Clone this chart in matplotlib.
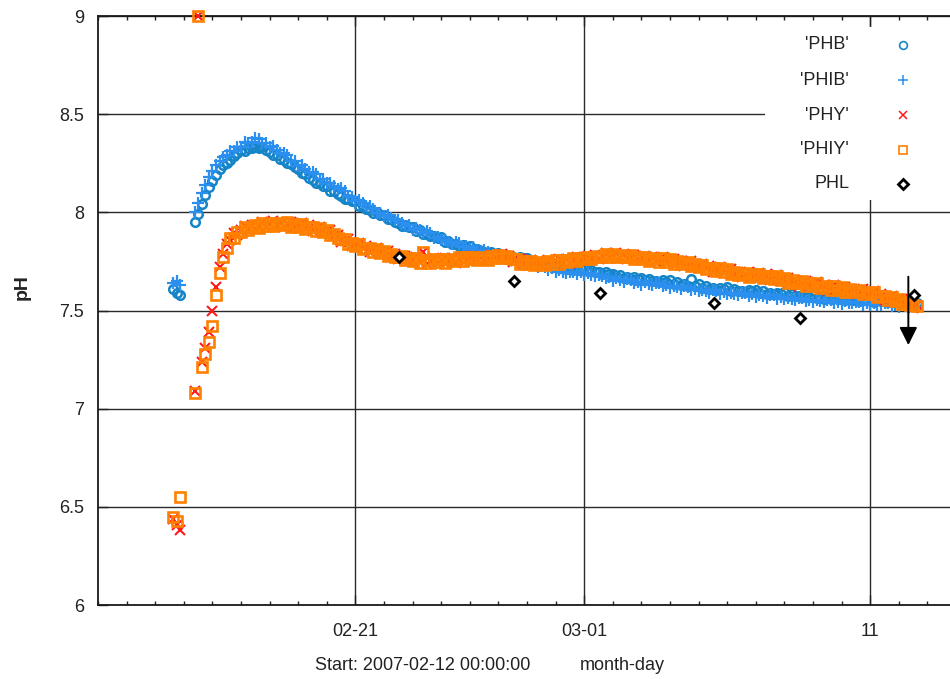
import datetime as dt

import matplotlib
matplotlib.use("Agg")
import matplotlib.pyplot as plt
import matplotlib.dates as mdates
from matplotlib.patches import Rectangle
from matplotlib.ticker import FixedLocator, FixedFormatter

plt.rcParams['font.family'] = ['Liberation Sans', 'DejaVu Sans']

nan = float('nan')

# ---- time axis -------------------------------------------------------------
START = dt.datetime(2007, 2, 12)
AXIS_DAYS = 29.86
SAMPLE_START = dt.datetime(2007, 2, 14, 15)   # first probe reading
SAMPLE_STEP_HOURS = 3

TICK_DATES = ['2007-02-21', '2007-03-01', '2007-03-11']
TICK_LABELS = ['02-21', '03-01', '11']
Y_TICKS = [6.0, 6.5, 7.0, 7.5, 8.0, 8.5, 9.0]

# ---- probe series (one value every 3 h, 8 values per row = 1 day) ----------
PHB = [
    7.61, 7.59, 7.58, nan, nan, nan, 7.95, 7.99,
    8.04, 8.09, 8.13, 8.16, 8.19, 8.22, 8.24, 8.25,
    8.265, 8.285, 8.30, 8.318, 8.314, 8.329, 8.326, 8.335,
    8.33, 8.335, 8.315, 8.308, 8.294, 8.294, 8.271, 8.265,
    8.25, 8.245, 8.23, 8.223, 8.199, 8.194, 8.176, 8.165,
    8.15, 8.15, 8.135, 8.133, 8.109, 8.109, 8.091, 8.085,
    8.07, 8.07, 8.06, 8.058, 8.034, 8.034, 8.016, 8.01,
    7.995, 8.00, 7.985, 7.988, 7.964, 7.964, 7.951, 7.945,
    7.93, 7.935, 7.925, 7.923, 7.904, 7.909, 7.891, 7.89,
    7.88, 7.88, 7.87, 7.873, 7.849, 7.854, 7.841, 7.84,
    7.83, 7.835, 7.825, 7.828, 7.809, 7.814, 7.801, 7.80,
    7.795, 7.80, 7.79, 7.793, 7.774, 7.784, 7.771, 7.77,
    7.765, 7.775, 7.765, 7.768, 7.749, 7.754, 7.741, 7.74,
    7.73, 7.735, 7.73, 7.733, 7.714, 7.719, 7.711, 7.71,
    7.705, 7.715, 7.71, 7.718, 7.699, 7.704, 7.696, 7.695,
    7.685, 7.695, 7.685, 7.688, 7.674, 7.679, 7.666, 7.67,
    7.66, 7.67, 7.66, 7.668, 7.654, 7.659, 7.651, 7.65,
    7.645, 7.655, 7.645, 7.653, 7.634, 7.644, 7.631, 7.635,
    7.625, 7.66, 7.625, 7.633, 7.614, 7.624, 7.611, 7.615,
    7.605, 7.615, 7.61, 7.618, 7.599, 7.609, 7.601, 7.60,
    7.595, 7.605, 7.60, 7.603, 7.589, 7.599, 7.586, 7.59,
    7.585, 7.59, 7.585, 7.593, 7.574, 7.584, 7.576, 7.575,
    7.57, 7.58, 7.57, 7.578, 7.564, 7.574, 7.561, 7.565,
    7.56, 7.57, 7.56, 7.568, 7.554, 7.564, 7.556, 7.555,
    7.55, 7.56, 7.555, 7.563, 7.544, 7.554, 7.546, 7.55,
    7.545, 7.555, 7.545, 7.553, 7.539, 7.549, 7.541, 7.54,
    7.54,
]

PHIB = [
    7.64, 7.65, 7.63, nan, nan, nan, 8.00, 8.05,
    8.10, 8.14, 8.18, 8.21, 8.24, 8.26, 8.28, 8.29,
    8.313, 8.314, 8.334, 8.332, 8.356, 8.355, 8.356, 8.378,
    8.373, 8.354, 8.354, 8.332, 8.336, 8.32, 8.301, 8.303,
    8.293, 8.264, 8.264, 8.237, 8.241, 8.22, 8.206, 8.203,
    8.193, 8.169, 8.169, 8.147, 8.151, 8.135, 8.121, 8.123,
    8.108, 8.084, 8.079, 8.057, 8.061, 8.045, 8.031, 8.033,
    8.018, 7.999, 7.999, 7.982, 7.986, 7.97, 7.961, 7.963,
    7.948, 7.929, 7.934, 7.912, 7.921, 7.91, 7.896, 7.903,
    7.893, 7.869, 7.874, 7.857, 7.861, 7.85, 7.841, 7.848,
    7.843, 7.824, 7.829, 7.812, 7.821, 7.81, 7.801, 7.808,
    7.798, 7.779, 7.784, 7.767, 7.776, 7.765, 7.756, 7.763,
    7.758, 7.744, 7.749, 7.732, 7.741, 7.73, 7.721, 7.728,
    7.723, 7.704, 7.714, 7.697, 7.706, 7.695, 7.691, 7.698,
    7.698, 7.684, 7.694, 7.682, 7.691, 7.68, 7.676, 7.683,
    7.678, 7.664, 7.669, 7.652, 7.666, 7.655, 7.646, 7.658,
    7.653, 7.639, 7.644, 7.632, 7.646, 7.635, 7.631, 7.638,
    7.638, 7.624, 7.629, 7.617, 7.626, 7.62, 7.611, 7.623,
    7.618, 7.604, 7.609, 7.597, 7.606, 7.60, 7.591, 7.603,
    7.598, 7.584, 7.594, 7.582, 7.591, 7.585, 7.581, 7.588,
    7.588, 7.574, 7.584, 7.567, 7.581, 7.575, 7.566, 7.578,
    7.578, 7.559, 7.569, 7.557, 7.566, 7.56, 7.556, 7.563,
    7.563, 7.549, 7.554, 7.542, 7.556, 7.55, 7.541, 7.553,
    7.553, 7.539, 7.544, 7.532, 7.546, 7.54, 7.536, 7.543,
    7.543, 7.529, 7.539, 7.527, 7.536, 7.53, 7.526, 7.538,
    7.538, 7.524, 7.529, 7.517, 7.531, 7.525, 7.521, 7.528,
    7.52,
]

PHY = [
    6.44, 6.41, 6.38, nan, nan, nan, 7.09, 9.00,
    7.24, 7.31, 7.39, 7.50, 7.62, 7.72, 7.79, 7.84,
    7.86, 7.895, 7.885, 7.91, 7.93, 7.915, 7.935, 7.915,
    7.93, 7.95, 7.925, 7.94, 7.955, 7.935, 7.95, 7.925,
    7.94, 7.95, 7.925, 7.935, 7.945, 7.92, 7.935, 7.905,
    7.915, 7.925, 7.895, 7.905, 7.91, 7.88, 7.885, 7.85,
    7.855, 7.865, 7.83, 7.84, 7.845, 7.82, 7.83, 7.80,
    7.81, 7.82, 7.79, 7.80, 7.805, 7.78, 7.79, 7.76,
    7.77, 7.78, 7.75, 7.76, 7.77, 7.745, 7.80, 7.735,
    7.75, 7.765, 7.74, 7.755, 7.765, 7.75, 7.765, 7.74,
    7.76, 7.775, 7.755, 7.77, 7.78, 7.76, 7.775, 7.75,
    7.765, 7.785, 7.76, 7.78, 7.79, 7.77, 7.78, 7.745,
    7.75, 7.76, 7.735, 7.745, 7.755, 7.735, 7.75, 7.725,
    7.74, 7.755, 7.73, 7.75, 7.76, 7.745, 7.76, 7.74,
    7.755, 7.775, 7.75, 7.77, 7.78, 7.765, 7.785, 7.76,
    7.78, 7.795, 7.77, 7.785, 7.795, 7.775, 7.79, 7.76,
    7.775, 7.785, 7.76, 7.77, 7.78, 7.755, 7.77, 7.745,
    7.755, 7.77, 7.74, 7.755, 7.76, 7.74, 7.75, 7.725,
    7.735, 7.75, 7.72, 7.73, 7.735, 7.715, 7.725, 7.695,
    7.71, 7.72, 7.69, 7.705, 7.71, 7.685, 7.695, 7.67,
    7.68, 7.695, 7.67, 7.685, 7.69, 7.67, 7.685, 7.655,
    7.67, 7.68, 7.65, 7.66, 7.665, 7.645, 7.655, 7.625,
    7.64, 7.65, 7.625, 7.635, 7.645, 7.62, 7.63, 7.605,
    7.615, 7.63, 7.60, 7.615, 7.62, 7.60, 7.61, 7.585,
    7.595, 7.61, 7.58, 7.595, 7.60, 7.575, 7.585, 7.555,
    7.565, 7.575, 7.545, 7.555, 7.56, 7.535, 7.545, 7.515,
    7.53,
]

PHIY = [
    6.45, 6.43, 6.55, nan, nan, nan, 7.08, 9.00,
    7.21, 7.28, 7.34, 7.42, 7.58, 7.69, 7.77, 7.82,
    7.87, 7.87, 7.90, 7.90, 7.925, 7.91, 7.925, 7.935,
    7.92, 7.945, 7.93, 7.945, 7.93, 7.945, 7.935, 7.94,
    7.95, 7.925, 7.94, 7.925, 7.94, 7.915, 7.925, 7.925,
    7.905, 7.92, 7.90, 7.91, 7.885, 7.89, 7.87, 7.865,
    7.865, 7.84, 7.845, 7.83, 7.84, 7.815, 7.82, 7.82,
    7.80, 7.815, 7.795, 7.805, 7.78, 7.79, 7.775, 7.775,
    7.78, 7.755, 7.765, 7.75, 7.765, 7.74, 7.80, 7.755,
    7.74, 7.76, 7.745, 7.76, 7.74, 7.76, 7.75, 7.755,
    7.77, 7.75, 7.77, 7.76, 7.775, 7.755, 7.765, 7.77,
    7.755, 7.78, 7.765, 7.785, 7.765, 7.78, 7.765, 7.76,
    7.76, 7.735, 7.75, 7.735, 7.75, 7.73, 7.74, 7.745,
    7.73, 7.75, 7.735, 7.755, 7.735, 7.755, 7.745, 7.755,
    7.765, 7.75, 7.765, 7.76, 7.775, 7.76, 7.775, 7.78,
    7.77, 7.79, 7.775, 7.79, 7.77, 7.785, 7.775, 7.775,
    7.785, 7.76, 7.775, 7.76, 7.775, 7.75, 7.76, 7.765,
    7.745, 7.765, 7.745, 7.76, 7.735, 7.75, 7.735, 7.74,
    7.745, 7.725, 7.735, 7.72, 7.73, 7.71, 7.715, 7.715,
    7.70, 7.715, 7.695, 7.71, 7.685, 7.695, 7.68, 7.685,
    7.69, 7.67, 7.685, 7.675, 7.685, 7.665, 7.675, 7.675,
    7.66, 7.675, 7.655, 7.665, 7.64, 7.655, 7.64, 7.64,
    7.65, 7.625, 7.64, 7.625, 7.64, 7.615, 7.62, 7.625,
    7.605, 7.625, 7.605, 7.62, 7.595, 7.61, 7.595, 7.60,
    7.605, 7.585, 7.595, 7.585, 7.595, 7.57, 7.575, 7.575,
    7.555, 7.57, 7.55, 7.56, 7.535, 7.545, 7.53, 7.53,
    7.525,
]

# laboratory check samples
PHL_TIMES = ['2007-02-22 13:00', '2007-02-26 13:00', '2007-03-01 13:00',
             '2007-03-05 13:00', '2007-03-08 13:00', '2007-03-12 13:00']
PHL = [7.77, 7.65, 7.59, 7.54, 7.46, 7.58]

# event marker
ARROW_TIME = '2007-03-12 08:00'
ARROW_FROM = 7.672
ARROW_TO = 7.324

# ---- styles ------------------------------------------------------------------
SERIES = [
    ("'PHB'", PHB, dict(marker='o', ms=6.2, mew=1.8, mfc='none', mec='#1585c8')),
    ("'PHIB'", PHIB, dict(marker='+', ms=8.0, mew=1.6, mec='#2b8ff0')),
    ("'PHY'", PHY, dict(marker='x', ms=6.5, mew=1.5, mec='#ff1a1a')),
    ("'PHIY'", PHIY, dict(marker='s', ms=6.5, mew=1.9, mfc='none', mec='#ff8000')),
]
KEY_STYLES = [
    dict(marker='o', ms=5.6, mew=1.2, mfc='none', mec='#1585c8'),
    dict(marker='+', ms=7.2, mew=1.1, mec='#2b8ff0'),
    dict(marker='x', ms=6.0, mew=1.1, mec='#ff1a1a'),
    dict(marker='s', ms=6.0, mew=1.2, mfc='none', mec='#ff8000'),
]
PHL_STYLE = dict(marker='D', ms=5.0, mew=2.0, mfc='white', mec='black')
TEXT_COLOR = '#222222'
GRID_COLOR = '#2a2a2a'

W, H = 950, 679
fig = plt.figure(figsize=(W / 100, H / 100), dpi=100)
ax = fig.add_axes([98 / W, 74 / H, 854 / W, 589 / H])


def parse(s):
    return dt.datetime.strptime(s, '%Y-%m-%d %H:%M') if ' ' in s else dt.datetime.strptime(s, '%Y-%m-%d')


for label, values, style in SERIES:
    times = [SAMPLE_START + dt.timedelta(hours=SAMPLE_STEP_HOURS * i) for i in range(len(values))]
    ax.plot(times, values, linestyle='none', clip_on=False, zorder=3, **style)

ax.plot([parse(t) for t in PHL_TIMES], PHL, linestyle='none', zorder=4, **PHL_STYLE)

arrow_x = parse(ARROW_TIME)
ax.annotate('', xy=(arrow_x, ARROW_TO), xytext=(arrow_x, ARROW_FROM),
            arrowprops=dict(arrowstyle='-|>,head_length=0.9,head_width=0.45',
                            mutation_scale=12, color='black', lw=1.4,
                            shrinkA=0, shrinkB=0), zorder=5)

# axes, ticks, grid
ax.set_xlim(START, START + dt.timedelta(days=AXIS_DAYS))
ax.set_ylim(Y_TICKS[0], Y_TICKS[-1])

tick_nums = [mdates.date2num(parse(d)) for d in TICK_DATES]
ax.xaxis.set_major_locator(FixedLocator(tick_nums))
ax.xaxis.set_major_formatter(FixedFormatter(TICK_LABELS))
ax.xaxis.set_minor_locator(mdates.DayLocator())
ax.set_yticks(Y_TICKS)
ax.set_yticklabels(['%g' % v for v in Y_TICKS])

ax.tick_params(axis='both', which='major', direction='in', length=7, width=1.0,
               labelsize=13, labelcolor=TEXT_COLOR, color='#222222')
ax.tick_params(axis='x', which='major', pad=13, top=True)
ax.tick_params(axis='x', which='minor', direction='in', length=3.2, width=1.0,
               color='#222222', top=True)
ax.tick_params(axis='y', which='major', pad=10)

ax.grid(True, which='major', color=GRID_COLOR, linewidth=1.0)
ax.set_axisbelow(True)

for side in ('left', 'bottom', 'top'):
    ax.spines[side].set_linewidth(1.3)
    ax.spines[side].set_color('#1a1a1a')
ax.spines['right'].set_visible(False)

# key box with right-aligned labels
ax.add_patch(Rectangle((0.781, 0.6876), 0.25, 0.2937, transform=ax.transAxes,
                       facecolor='white', edgecolor='none', zorder=2.5, clip_on=False))
key_rows = [0.9508, 0.8913, 0.8319, 0.7725, 0.7148]
key_items = [(lbl, st) for (lbl, _, _), st in zip(SERIES, KEY_STYLES)] + [('PHL', PHL_STYLE)]
for (lbl, st), ky in zip(key_items, key_rows):
    ax.text(0.8794, ky, lbl, transform=ax.transAxes, ha='right', va='center',
            fontsize=13, color=TEXT_COLOR, zorder=6)
    ax.plot([0.9426], [ky], transform=ax.transAxes, linestyle='none',
            clip_on=False, zorder=6, **st)

# axis titles
fig.text(22 / W, 1 - 287 / H, 'pH', rotation=90, ha='center', va='center',
         fontsize=14, fontweight='bold', color=TEXT_COLOR)
fig.text(315 / W, 1 - 666 / H, 'Start: 2007-02-12 00:00:00', ha='left', va='center',
         fontsize=13, color=TEXT_COLOR)
fig.text(580 / W, 1 - 666 / H, 'month-day', ha='left', va='center',
         fontsize=13, color=TEXT_COLOR)

fig.savefig('out.png', dpi=100, facecolor='white')
